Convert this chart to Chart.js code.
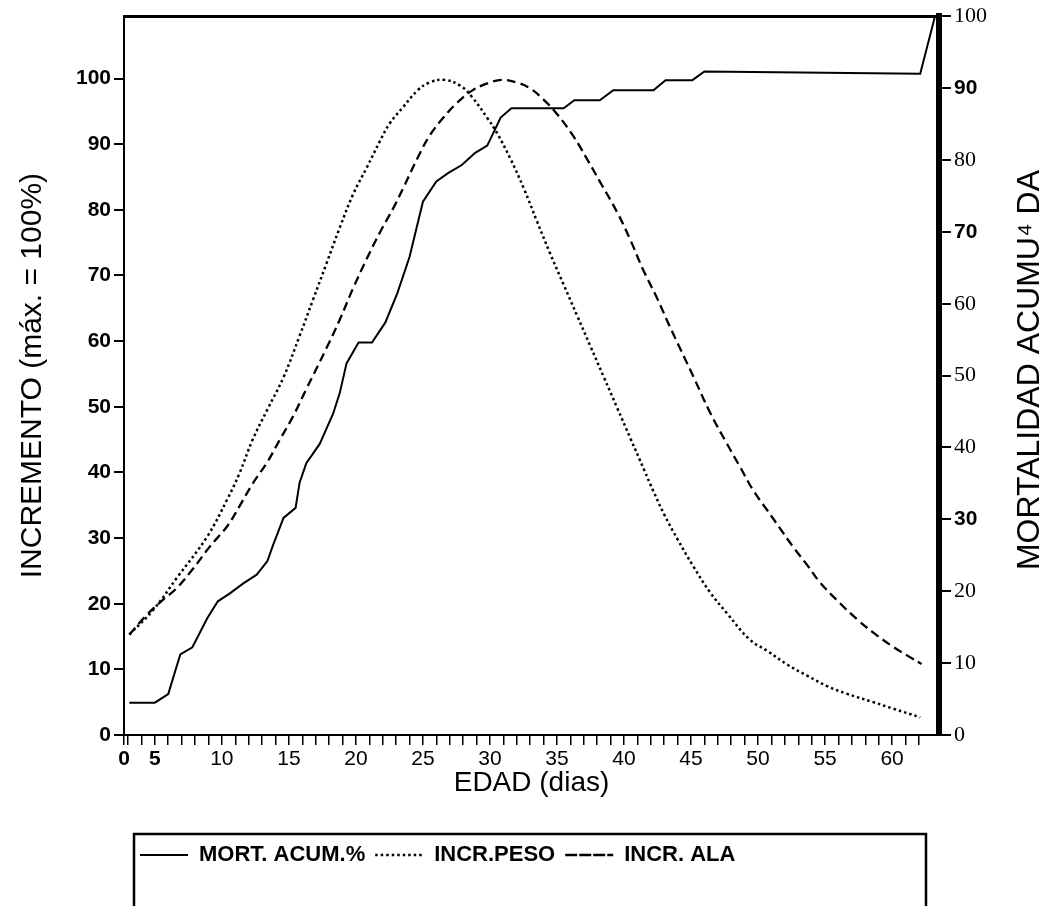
<!DOCTYPE html>
<html>
<head>
<meta charset="utf-8">
<script src="https://cdn.jsdelivr.net/npm/chart.js@4/dist/chart.umd.min.js"></script>
<style>
html,body{margin:0;padding:0;background:#fff;}
#wrap{width:1049px;height:906px;position:relative;}
</style>
</head>
<body>
<div id="wrap"><canvas id="c" width="1049" height="906"></canvas></div>
<script>
// ---- data ----
const mortDays   = [3.1, 5.0, 6.0, 6.9, 7.8, 8.9, 9.7, 10.6, 11.6, 12.6, 13.4, 13.8, 14.6, 15.5, 15.8, 16.3, 17.3, 18.3, 18.8, 19.3, 20.2, 21.2, 22.2, 23.1, 24.0, 25.0, 26.0, 26.9, 27.9, 28.9, 29.8, 30.8, 31.6, 35.5, 36.3, 38.2, 39.2, 42.2, 43.1, 45.1, 46.0, 62.1, 63.2];
const mortValues = [4.5, 4.5, 5.7, 11.2, 12.2, 16.2, 18.6, 19.7, 21.1, 22.3, 24.2, 26.3, 30.2, 31.6, 35.1, 37.8, 40.5, 44.7, 47.6, 51.7, 54.6, 54.6, 57.4, 61.5, 66.5, 74.2, 77.0, 78.2, 79.3, 81.0, 82.0, 85.9, 87.2, 87.2, 88.3, 88.3, 89.7, 89.7, 91.1, 91.1, 92.3, 92.0, 100];

const pesoDays   = [3.1, 4.9, 6.7, 8.9, 10.4, 11.3, 12.3, 13.4, 14.6, 15.8, 16.8, 17.8, 18.8, 19.8, 20.8, 21.8, 22.5, 23.5, 24.6, 25.5, 26.6, 27.8, 28.7, 29.8, 30.5, 31.5, 32.5, 33.5, 34.5, 35.5, 36.5, 37.5, 38.5, 39.5, 40.5, 41.5, 42.2, 43.0, 44.0, 45.2, 46.4, 47.7, 49.4, 50.7, 52.2, 53.7, 55.2, 56.6, 58.6, 60.1, 62.1];
const pesoValues = [15.3, 19.1, 24.1, 30.2, 35.9, 39.8, 45.0, 49.6, 54.5, 60.8, 66.3, 71.8, 77.3, 82.4, 86.4, 90.5, 93.1, 95.6, 98.2, 99.4, 99.8, 98.9, 97.1, 94.0, 91.8, 87.9, 83.4, 78.3, 73.3, 68.6, 63.9, 59.2, 54.5, 49.8, 45.1, 40.4, 37.1, 33.6, 29.8, 25.6, 21.8, 18.5, 14.5, 12.8, 10.7, 9.0, 7.4, 6.3, 5.0, 4.0, 2.7];

const alaDays    = [3.1, 4.4, 5.6, 6.6, 7.8, 9.1, 10.4, 11.3, 12.3, 13.4, 14.3, 15.3, 16.3, 17.8, 18.8, 19.8, 20.8, 21.8, 22.8, 23.5, 24.6, 25.5, 26.5, 27.5, 28.7, 30.0, 30.9, 32.0, 33.0, 34.0, 35.0, 36.2, 37.2, 38.2, 39.5, 40.5, 41.4, 42.5, 43.4, 45.2, 46.4, 47.7, 48.7, 49.6, 50.7, 51.6, 52.6, 53.7, 54.6, 56.1, 57.4, 58.6, 60.1, 61.3, 62.2];
const alaValues  = [15.3, 18.3, 20.6, 22.3, 25.2, 28.7, 31.8, 34.8, 38.3, 41.6, 44.9, 48.5, 52.7, 58.9, 63.3, 68.1, 72.5, 76.6, 80.3, 83.2, 87.9, 91.3, 94.0, 96.2, 98.2, 99.4, 99.8, 99.4, 98.5, 96.8, 94.6, 91.3, 87.9, 84.3, 79.6, 75.3, 71.0, 66.4, 62.3, 54.5, 49.2, 44.3, 40.7, 37.4, 34.2, 31.6, 28.7, 25.8, 23.3, 20.1, 17.6, 15.6, 13.4, 11.9, 10.8];

const seriesNames   = ['MORT. ACUM.%', 'INCR.PESO', 'INCR. ALA'];
const xLabelValues  = [2.7, 5, 10, 15, 20, 25, 30, 35, 40, 45, 50, 55, 60];
const xLabelTexts   = ['0', '5', '10', '15', '20', '25', '30', '35', '40', '45', '50', '55', '60'];
const xMinorFirst   = 3;
const xMinorLast    = 62;
const leftTicks     = [0, 10, 20, 30, 40, 50, 60, 70, 80, 90, 100];
const rightTicks    = [0, 10, 20, 30, 40, 50, 60, 70, 80, 90, 100];
const rightBoldTicks = [30, 70, 90];
const xTitle     = 'EDAD (dias)';
const leftTitle  = 'INCREMENTO (máx. = 100%)';
const rightTitle = 'MORTALIDAD ACUMU⁴ DA';

// ---- chart ----
const pts = (xs, ys) => xs.map((x, i) => ({x: x, y: ys[i]}));
const SANS = "'Liberation Sans', Arial, Helvetica, sans-serif";
const SERIF = "'Liberation Serif', 'Times New Roman', serif";
Chart.defaults.color = '#000';
Chart.defaults.font.family = SANS;

const decor = {
  id: 'decor',
  afterLayout(chart) {
    const lg = chart.legend;
    if (lg) { const w = lg.right - lg.left; lg.left = 130; lg.right = 130 + w; }
  },
  afterDraw(chart) {
    const ctx = chart.ctx;
    const lg = chart.legend;
    ctx.save();
    ctx.strokeStyle = '#000';
    ctx.lineWidth = 2.5;
    ctx.beginPath();
    ctx.moveTo(134, 912); ctx.lineTo(134, lg.top); ctx.lineTo(926, lg.top); ctx.lineTo(926, 912);
    ctx.stroke();
    // right axis title (reads bottom to top, like the left one)
    ctx.translate(1030, 370);
    ctx.rotate(-Math.PI / 2);
    ctx.fillStyle = '#000';
    ctx.font = '32px ' + SANS;
    ctx.textAlign = 'center';
    ctx.textBaseline = 'middle';
    ctx.fillText(rightTitle, 0, 0);
    ctx.restore();
  }
};

new Chart(document.getElementById('c'), {
  type: 'line',
  data: {
    datasets: [
      { label: seriesNames[0], data: pts(mortDays, mortValues), yAxisID: 'y2', xAxisID: 'x',
        borderColor: '#000', backgroundColor: 'rgba(0,0,0,0)', borderWidth: 2, pointRadius: 0, tension: 0 },
      { label: seriesNames[1], data: pts(pesoDays, pesoValues), yAxisID: 'y', xAxisID: 'x',
        borderColor: '#000', backgroundColor: 'rgba(0,0,0,0)', borderWidth: 2.5, borderDash: [2.5, 3],
        pointRadius: 0, tension: 0.4 },
      { label: seriesNames[2], data: pts(alaDays, alaValues), yAxisID: 'y', xAxisID: 'x',
        borderColor: '#000', backgroundColor: 'rgba(0,0,0,0)', borderWidth: 2.3, borderDash: [9, 5],
        pointRadius: 0, tension: 0.4 }
    ]
  },
  options: {
    responsive: false,
    devicePixelRatio: 1,
    animation: false,
    events: [],
    layout: { padding: { top: 16, left: 0, right: 0, bottom: 30 } },
    plugins: {
      tooltip: { enabled: false },
      legend: {
        position: 'bottom',
        align: 'start',
        labels: {
          boxWidth: 48, boxHeight: 0, padding: 10,
          font: { size: 22, weight: 'bold', family: SANS },
          color: '#000'
        }
      }
    },
    scales: {
      x: {
        type: 'linear', position: 'bottom', min: 2.7, max: 63.5,
        afterBuildTicks: (s) => {
          const vals = new Set(xLabelValues);
          for (let d = xMinorFirst; d <= xMinorLast; d++) vals.add(d);
          s.ticks = [...vals].sort((a, b) => a - b).map(v => ({value: v}));
        },
        afterFit: (s) => { s.height = 99; },
        ticks: {
          autoSkip: false, maxRotation: 0, minRotation: 0, padding: 2, color: '#000',
          font: (c) => ({ size: 21, family: "'Liberation Sans Narrow', " + SANS,
                          weight: (c.tick && (c.tick.value === 2.7 || c.tick.value === 5)) ? 'bold' : 'normal' }),
          callback: (v) => { const i = xLabelValues.indexOf(v); return i >= 0 ? xLabelTexts[i] : ''; }
        },
        grid: { display: true, drawOnChartArea: false, drawTicks: true, tickLength: 10, color: '#000', lineWidth: 1.5 },
        border: { display: true, color: '#000', width: 2 },
        title: { display: true, text: xTitle, color: '#000', font: { size: 28, family: SANS }, padding: { top: 0, bottom: 34 } }
      },
      xTop: {
        type: 'linear', position: 'top', min: 2.7, max: 63.5,
        afterFit: (s) => { s.height = 0; },
        ticks: { display: false },
        grid: { display: false, drawTicks: false },
        border: { display: true, color: '#000', width: 3 }
      },
      y: {
        type: 'linear', position: 'left', min: 0, max: 109.5,
        afterBuildTicks: (s) => { s.ticks = leftTicks.map(v => ({value: v})); },
        afterFit: (s) => { s.width = 124; },
        ticks: { padding: 3, color: '#000', font: { size: 21, weight: 'bold', family: SANS } },
        grid: { drawOnChartArea: false, drawTicks: true, tickLength: 10, color: '#000', lineWidth: 2 },
        border: { display: true, color: '#000', width: 2 },
        title: { display: true, text: leftTitle, color: '#000', font: { size: 30, family: SANS }, padding: { top: 15, bottom: 0 } }
      },
      y2: {
        type: 'linear', position: 'right', min: 0, max: 100,
        afterBuildTicks: (s) => { s.ticks = rightTicks.map(v => ({value: v})); },
        afterFit: (s) => { s.width = 110; },
        ticks: {
          padding: 3, color: '#000',
          font: (c) => (c.tick && rightBoldTicks.includes(c.tick.value))
            ? { size: 21, weight: 'bold', family: SANS }
            : { size: 22, weight: 'normal', family: SERIF }
        },
        grid: { drawOnChartArea: false, drawTicks: true, tickLength: 12, color: '#000', lineWidth: 2 },
        border: { display: true, color: '#000', width: 6 },
        title: { display: false }
      }
    }
  },
  plugins: [decor]
});
</script>
</body>
</html>
